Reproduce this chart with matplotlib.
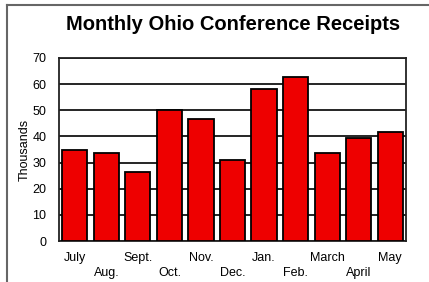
import numpy as np
from matplotlib import pyplot as plt
from matplotlib.lines import Line2D

months = ['July', 'Aug.', 'Sept.', 'Oct.', 'Nov.', 'Dec.', 'Jan.', 'Feb.', 'March', 'April', 'May']
receipts = [35, 33.6, 26.3, 50, 46.8, 31, 58, 62.8, 33.6, 39.4, 41.7]
yticks = [0, 10, 20, 30, 40, 50, 60, 70]

plt.rcParams['font.family'] = ['Liberation Sans', 'DejaVu Sans']

fig = plt.figure(figsize=(4.29, 2.82), dpi=100)
ax = fig.add_axes([59/429, 1-241/282, 347/429, 183/282])

x = np.arange(len(months))
ax.bar(x, receipts, width=0.8, color='#ee0000', edgecolor='black', linewidth=1.3, zorder=3)

ax.set_ylim(0, 70)
ax.set_xlim(-0.5, len(months)-0.5)
ax.set_yticks(yticks)
ax.yaxis.grid(True, color='black', linewidth=1.2, zorder=0)
ax.set_axisbelow(True)

labels = [m if i % 2 == 0 else '\n' + m for i, m in enumerate(months)]
ax.set_xticks(x)
ax.set_xticklabels(labels, fontsize=9, linespacing=1.35)
ax.tick_params(axis='x', length=0, pad=8)
ax.tick_params(axis='y', length=0, pad=9, labelsize=9)
ax.set_ylabel('Thousands', fontsize=9, labelpad=1)

for s in ax.spines.values():
    s.set_linewidth(1.3)
    s.set_color('#222222')

fig.text(233/429, 1-24/282, 'Monthly Ohio Conference Receipts', ha='center', va='center',
         fontsize=14.5, fontweight='bold')

# outer frame (top and left only)
fig.add_artist(Line2D([7/429, 1], [1-5/282, 1-5/282], transform=fig.transFigure, color='#666666', linewidth=1.5))
fig.add_artist(Line2D([7/429, 7/429], [0, 1-5/282], transform=fig.transFigure, color='#666666', linewidth=1.5))

fig.savefig('out.png', dpi=100)
